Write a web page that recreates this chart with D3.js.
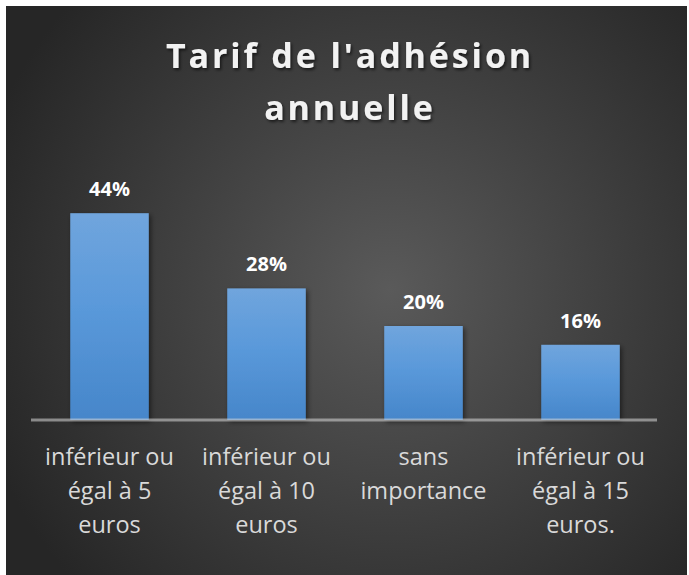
<!DOCTYPE html>
<html><head><meta charset="utf-8">
<script src="https://cdn.jsdelivr.net/npm/d3@7"></script>
<style>html,body{margin:0;padding:0;background:#fff;}svg{display:block;}</style>
</head><body>
<script>
const categories = [
  ["inférieur ou", "égal à 5", "euros"],
  ["inférieur ou", "égal à 10", "euros"],
  ["sans", "importance"],
  ["inférieur ou", "égal à 15", "euros."]
];
const values = [0.44, 0.28, 0.20, 0.16];
const titleLines = ["Tarif de l'adhésion", "annuelle"];

const W = 689, H = 575;
const svg = d3.select("body").append("svg").attr("width", W).attr("height", H);
const defs = svg.append("defs");
const rg = defs.append("radialGradient").attr("id","bg")
  .attr("gradientUnits","userSpaceOnUse").attr("cx",390).attr("cy",290).attr("r",430);
rg.append("stop").attr("offset","0").attr("stop-color","#5a5a5a");
rg.append("stop").attr("offset","1").attr("stop-color","#262626");
const lg = defs.append("linearGradient").attr("id","bar").attr("x1",0).attr("y1",0).attr("x2",0).attr("y2",1);
lg.append("stop").attr("offset","0").attr("stop-color","#70a5dd");
lg.append("stop").attr("offset","0.45").attr("stop-color","#5a99da");
lg.append("stop").attr("offset","1").attr("stop-color","#4686ca");
const sh = defs.append("filter").attr("id","sh").attr("x","-20%").attr("y","-20%").attr("width","140%").attr("height","140%");
sh.append("feDropShadow").attr("dx",2).attr("dy",2).attr("stdDeviation",2.5).attr("flood-color","#000").attr("flood-opacity",0.5);
const tsh = defs.append("filter").attr("id","tsh").attr("x","-10%").attr("y","-30%").attr("width","120%").attr("height","160%");
tsh.append("feDropShadow").attr("dx",1.5).attr("dy",2).attr("stdDeviation",1.5).attr("flood-color","#000").attr("flood-opacity",0.6);

svg.append("rect").attr("x",6).attr("y",6).attr("width",681).attr("height",569).attr("fill","url(#bg)");

const x = d3.scaleBand().domain(d3.range(values.length)).range([31, 659]).paddingInner(0.5).paddingOuter(0.25);
const y = d3.scaleLinear().domain([0, 0.5]).range([420, 185]);

// title
svg.append("g").selectAll("text").data(titleLines).join("text")
  .attr("x", 350).attr("y", (d,i) => 68 + i*52)
  .attr("text-anchor","middle")
  .attr("font-family","'Open Sans', sans-serif").attr("font-weight","bold")
  .attr("font-size", 34).attr("letter-spacing", 2.9)
  .attr("fill","#f2f2f2").attr("filter","url(#tsh)")
  .text(d => d);

// bars
svg.append("g").selectAll("rect").data(values).join("rect")
  .attr("x", (d,i) => x(i)).attr("width", x.bandwidth())
  .attr("y", d => y(d)).attr("height", d => y(0) - y(d))
  .attr("fill","url(#bar)").attr("filter","url(#sh)");

// axis
const axis = svg.append("g").attr("transform","translate(0,420)").call(d3.axisBottom(x).tickSize(0).tickFormat(""));
axis.select(".domain").attr("stroke","#d9d9d9").attr("stroke-opacity",0.55).attr("stroke-width",3)
  .attr("d","M31,0H657");

// value labels
svg.append("g").selectAll("text").data(values).join("text")
  .attr("x",(d,i) => x(i) + x.bandwidth()/2).attr("y", d => y(d) - 17)
  .attr("text-anchor","middle")
  .attr("font-family","'Open Sans', sans-serif").attr("font-weight","bold").attr("font-size",20)
  .attr("fill","#ffffff")
  .text(d => d3.format(".0%")(d));

// category labels
const cg = svg.append("g").selectAll("text").data(categories).join("text")
  .attr("text-anchor","middle")
  .attr("font-family","'Open Sans', sans-serif").attr("font-size",23.5)
  .attr("fill","#d9d9d9");
cg.each(function(lines, i){
  d3.select(this).selectAll("tspan").data(lines).join("tspan")
    .attr("x", x(i) + x.bandwidth()/2)
    .attr("y", (d,j) => 465 + j*34)
    .text(d => d);
});
</script>
</body></html>
